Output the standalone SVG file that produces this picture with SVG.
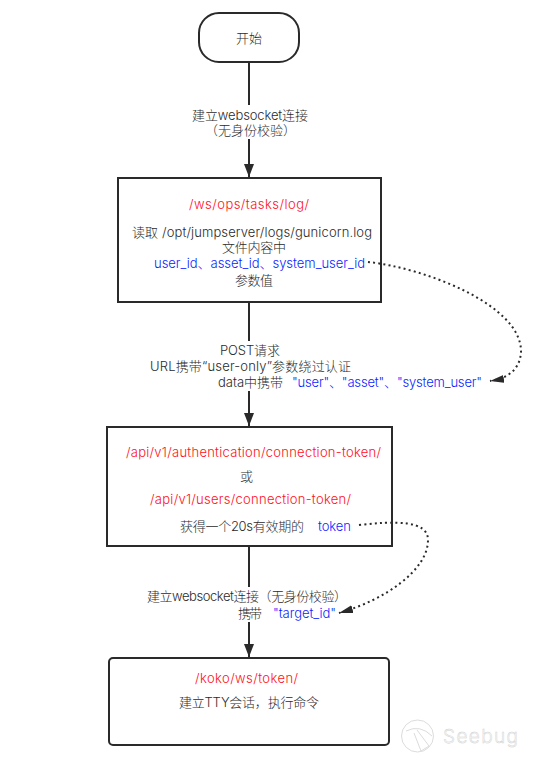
<svg xmlns="http://www.w3.org/2000/svg" width="546" height="766" viewBox="0 0 546 766">
<style>
text{font-family:"Inter","Noto Sans CJK SC",sans-serif;font-size:13px;font-weight:300;fill:#2b2b2b;text-anchor:start}
.r{fill:#ff0f1c}
.b{fill:#0a1fff}
.box{fill:#fff;stroke:#2a2a2a;stroke-width:2}
.line{fill:none;stroke:#2a2a2a;stroke-width:2}
.dot{fill:none;stroke:#2a2a2a;stroke-width:2;stroke-dasharray:2 3.2}
.wm{fill:none;stroke:#dcdcdc;stroke-width:1}
</style>
<defs>
<marker id="a" markerUnits="userSpaceOnUse" markerWidth="14" markerHeight="12" refX="13" refY="5" orient="auto"><path d="M0 0L13 5L0 10Z" fill="#2a2a2a"/></marker>
<marker id="d" markerUnits="userSpaceOnUse" markerWidth="16" markerHeight="10" refX="14" refY="4" orient="auto"><path d="M0 0L14 4L0 8Z" fill="#2a2a2a"/></marker>
</defs>
<g id="start">
<rect class="box" x="199" y="13" width="100" height="49" rx="20"/>
<text x="236" y="43" textLength="26">开始</text>
</g>
<g id="label1">
<text x="192" y="120" textLength="116">建立websocket连接</text>
<text x="205" y="135" textLength="91">（无身份校验）</text>
</g>
<g id="node-log">
<rect class="box" x="118" y="178" width="263" height="124"/>
<text class="r" x="189" y="209" textLength="120">/ws/ops/tasks/log/</text>
<text x="132" y="237" textLength="240">读取 /opt/jumpserver/logs/gunicorn.log</text>
<text x="222" y="252" textLength="64">文件内容中</text>
<text class="b" x="154" y="268" textLength="211">user_id、asset_id、system_user_id</text>
<text x="235" y="285" textLength="38">参数值</text>
</g>
<g id="label2">
<text x="220" y="355" textLength="60">POST请求</text>
<text x="150" y="371" textLength="201">URL携带“user-only”参数绕过认证</text>
<text x="218" y="387" textLength="65">data中携带</text>
<text class="b" x="292" y="387" textLength="190">"user"、"asset"、"system_user"</text>
</g>
<g id="node-token">
<rect class="box" x="107" y="427" width="285" height="119"/>
<text class="r" x="126" y="457" textLength="255">/api/v1/authentication/connection-token/</text>
<text x="240" y="481">或</text>
<text class="r" x="150" y="504" textLength="201">/api/v1/users/connection-token/</text>
<text x="180" y="531" textLength="124">获得一个20s有效期的</text>
<text class="b" x="318" y="531" textLength="33">token</text>
</g>
<g id="label3">
<text x="147" y="601" textLength="200">建立websocket连接（无身份校验）</text>
<text x="238" y="618" textLength="24">携带</text>
<text class="b" x="273" y="618" textLength="63">"target_id"</text>
</g>
<g id="node-tty">
<rect class="box" x="109" y="658" width="280" height="87" rx="4"/>
<text class="r" x="195" y="683" textLength="103">/koko/ws/token/</text>
<text x="179" y="707" textLength="140">建立TTY会话，执行命令</text>
</g>
<g id="watermark">
<circle class="wm" cx="417.5" cy="736" r="16"/>
<path class="wm" d="M417 730L429 746L421 751L414 733M406 731Q420 724 432 736"/>
<text x="443" y="743" textLength="75" style="font-size:19px;fill:#f6f6f6;stroke:#d2d2d2;stroke-width:.4">Seebug</text>
</g>
<g id="connectors">
<path class="line" d="M249 62V105"/>
<path class="line" d="M249 139V177" marker-end="url(#a)"/>
<path class="line" d="M249 302V341"/>
<path class="line" d="M249 391V426" marker-end="url(#a)"/>
<path class="line" d="M249 546V587"/>
<path class="line" d="M249 622V657" marker-end="url(#a)"/>
<path class="dot" d="M368 262C425 268 522 305 521 352C520 368 510 378 490 381" marker-end="url(#d)"/>
<path class="dot" d="M359 525C395 521 428 520 428 540C428 570 385 600 339 613" marker-end="url(#d)"/>
</g>
</svg>
